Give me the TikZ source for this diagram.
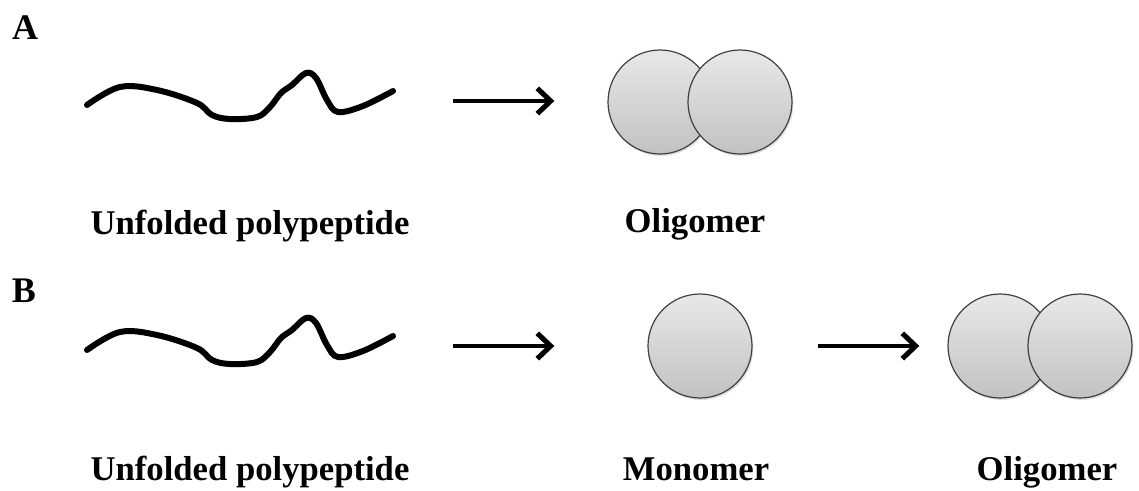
\documentclass[tikz,border=0pt]{standalone}
\usepackage{fontspec}
\setmainfont{Liberation Serif}
\usetikzlibrary{arrows.meta,shadows}
\begin{document}
\begin{tikzpicture}[x=0.75pt,y=-0.75pt,
  chain/.style={line width=4.5pt,line cap=round,line join=round},
  ball/.style={circle,draw=black!75,line width=0.9pt,minimum size=104*0.75pt,inner sep=0pt,
    top color=gray!18,bottom color=gray!48,drop shadow={opacity=0.25,shadow xshift=1pt,shadow yshift=-1.5pt}},
  reaction/.style={line width=3.4pt,-{Straight Barb[length=10pt,width=19pt,line width=3.8pt,line join=miter]},shorten >=2pt},
  lab/.style={font=\bfseries\fontsize{26}{30}\selectfont,anchor=base,inner sep=0pt},
  panel/.style={font=\bfseries\fontsize{27}{30}\selectfont,anchor=base,inner sep=0pt}]
\useasboundingbox (0,0) rectangle (1139,491);
% Panel A
\node[panel] (pA) at (25,40) {A};
\draw[chain] plot[smooth,tension=0.6] coordinates {(87,105) (120,87) (157,90) (197,103) (212,115) (230,119) (257,117) (270,107) (281,93) (292,85) (306,73) (316,78) (327,100) (338,112) (363,106) (393,91)};
\coordinate (a1) at (453,101);
\coordinate (a2) at (557,101);
\draw[reaction] (a1) -- (a2);
\node[ball] (oA1) at (660,102) {};
\node[ball] (oA2) at (740,102) {};
\node[lab] (uA) at (250,235) {Unfolded polypeptide};
\node[lab] (lA) at (695,233) {Oligomer};
% Panel B
\node[panel] (pB) at (24,303) {B};
\draw[chain] plot[smooth,tension=0.6] coordinates {(87,350) (120,332) (157,335) (197,348) (212,360) (230,364) (257,362) (270,352) (281,338) (292,330) (306,318) (316,323) (327,345) (338,357) (363,351) (393,336)};
\coordinate (b1) at (453,346);
\coordinate (b2) at (557,346);
\draw[reaction] (b1) -- (b2);
\node[ball] (m) at (700,346) {};
\coordinate (b3) at (818,346);
\coordinate (b4) at (922,346);
\draw[reaction] (b3) -- (b4);
\node[ball] (oB1) at (1000,346) {};
\node[ball] (oB2) at (1080,346) {};
\node[lab] (uB) at (250,480) {Unfolded polypeptide};
\node[lab] (mB) at (696,480) {Monomer};
\node[lab] (lB) at (1047,480) {Oligomer};
\end{tikzpicture}
\end{document}
